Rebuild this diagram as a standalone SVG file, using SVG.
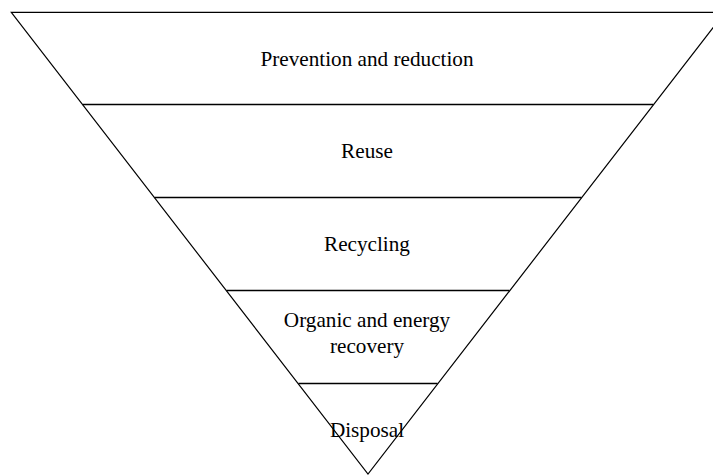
<svg xmlns="http://www.w3.org/2000/svg" width="713" height="475" viewBox="0 0 713 475">
<style>
.edge{fill:none;stroke:#000;stroke-width:1.2}
.div{fill:none;stroke:#000;stroke-width:1.6}
.lbl{font-family:"Liberation Serif","Times New Roman",serif;font-size:21.2px;fill:#000;text-anchor:middle}
</style>
<rect width="713" height="475" fill="#fff"/>
<g id="outline">
<polygon class="edge" points="11.3,12.3 725,12.3 368,474"/>
</g>
<g id="connectors">
<line class="div" x1="82.7" y1="104.5" x2="653.3" y2="104.5"/>
<line class="div" x1="154.6" y1="197.5" x2="581.4" y2="197.5"/>
<line class="div" x1="226.5" y1="290.5" x2="509.5" y2="290.5"/>
<line class="div" x1="298.4" y1="383.5" x2="437.6" y2="383.5"/>
</g>
<g id="prevention"><text class="lbl" x="367" y="66">Prevention and reduction</text></g>
<g id="reuse"><text class="lbl" x="367" y="158">Reuse</text></g>
<g id="recycling"><text class="lbl" x="367" y="251">Recycling</text></g>
<g id="recovery"><text class="lbl" x="367" y="327.3">Organic and energy</text><text class="lbl" x="367" y="353.3">recovery</text></g>
<g id="disposal"><text class="lbl" x="367" y="436.7">Disposal</text></g>
</svg>
